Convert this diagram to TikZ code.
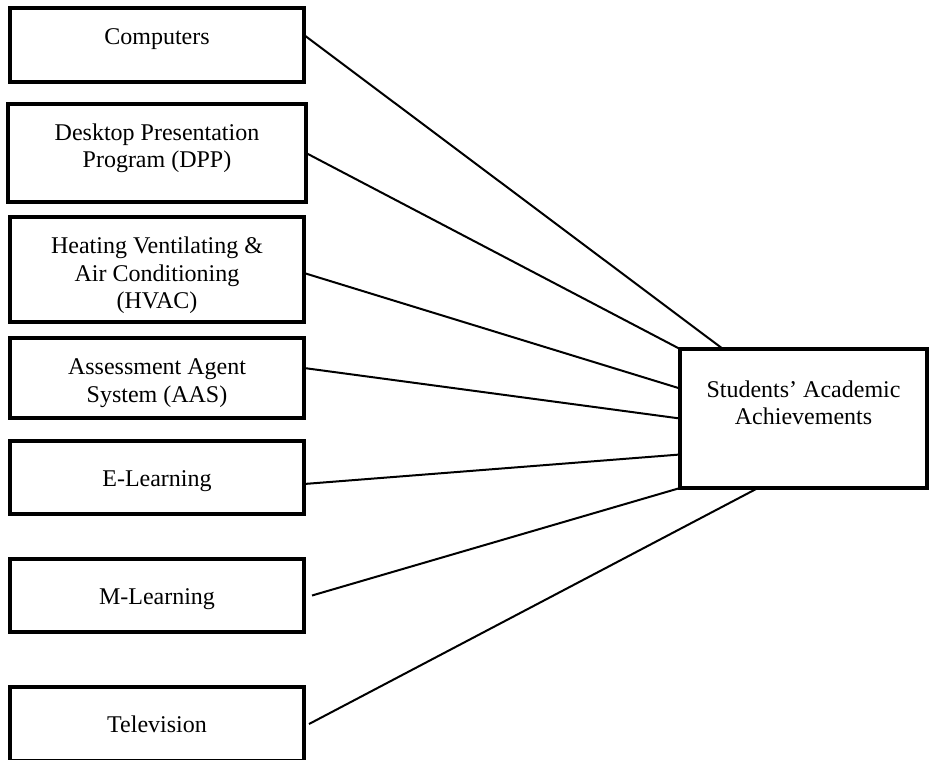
\documentclass[tikz,border=0pt]{standalone}
\usepackage{fontspec}
\setmainfont{Liberation Serif}
\usetikzlibrary{positioning}
\tikzstyle{itembox} = [draw, line width=2.2pt, inner sep=0pt, outer sep=0pt, minimum width=147pt, text height=18.4pt, align=center, font=\fontsize{12}{13.6}\selectfont]
\tikzstyle{lowbox} = [itembox, text height=22.8pt]
\tikzstyle{link} = [line width=1pt]

\begin{document}
\begin{tikzpicture}[x=0.5pt, y=-0.5pt]
  \useasboundingbox (0,0) rectangle (929,759);

  \node[itembox, anchor=north west, text depth=18.6pt] (comp) at (10,8) {Computers};
  \node[itembox, below=11pt of comp, minimum width=149pt, text height=32pt, text depth=17pt] (dpp) {Desktop Presentation\\Program (DPP)};
  \node[itembox, below=7.5pt of dpp, text height=45.6pt, text depth=6.9pt] (hvac) {Heating Ventilating \&\\Air Conditioning\\(HVAC)};
  \node[itembox, below=8pt of hvac, text height=32pt, text depth=8pt] (aas) {Assessment Agent\\System (AAS)};
  \node[lowbox, below=11.5pt of aas, text depth=13.7pt] (elearn) {E-Learning};
  \node[lowbox, below=22.5pt of elearn, text depth=13.7pt] (mlearn) {M-Learning};
  \node[lowbox, below=27.5pt of mlearn, text depth=14.2pt] (tv) {Television};
  \node[itembox, anchor=north west, minimum width=123.5pt, text height=37.8pt, text depth=31.7pt] (ach) at (680,349) {Students' Academic\\Achievements};

  \draw[link] ([yshift=5pt]comp.east) -- ([xshift=21.5pt]ach.north west);
  \draw[link] (dpp.east) -- (ach.north west);
  \draw[link] ([yshift=-1.75pt]hvac.east) -- ([yshift=15pt]ach.west);
  \draw[link] ([yshift=5pt]aas.east) -- (ach.west);
  \draw[link] ([yshift=-3.25pt]elearn.east) -- ([yshift=-18pt]ach.west);
  \draw[link] ([xshift=4pt]mlearn.east) -- (ach.south west);
  \draw[link] ([xshift=2.5pt]tv.east) -- ([xshift=39pt]ach.south west);
\end{tikzpicture}
\end{document}
